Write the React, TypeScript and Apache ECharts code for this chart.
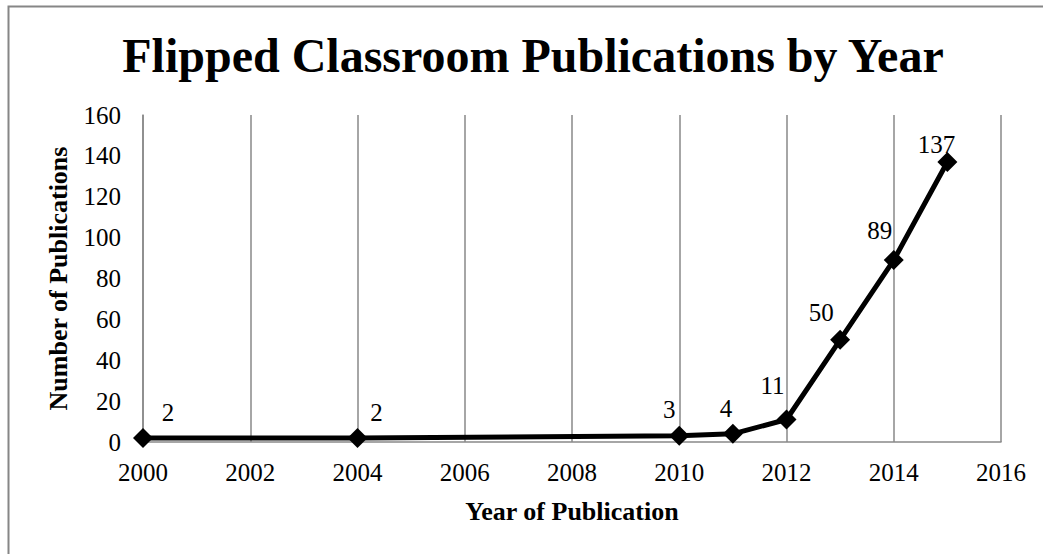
import React, { useEffect, useRef } from "react";
import * as echarts from "echarts";

const years = [2000, 2004, 2010, 2011, 2012, 2013, 2014, 2015];
const publications = [2, 2, 3, 4, 11, 50, 89, 137];
const labelOffsets: [number, number][] = [
  [25, -25], [19, -25], [-10, -26], [-7, -25], [-14, -34], [-19, -27], [-14, -30], [-11, -18],
];
const titleText = "Flipped Classroom Publications by Year";
const xName = "Year of Publication";
const yName = "Number of Publications";

const FONT = "Times New Roman, Liberation Serif, serif";

export default function App() {
  const ref = useRef<HTMLDivElement>(null);
  useEffect(() => {
    document.body.style.margin = "0";
    const chart = echarts.init(ref.current!, null, { renderer: "svg" });
    chart.setOption({
      animation: false,
      backgroundColor: "#fff",
      textStyle: { fontFamily: FONT, color: "#000" },
      title: {
        text: titleText,
        left: 528,
        textAlign: "center",
        top: 26,
        textStyle: { fontFamily: FONT, fontSize: 48, fontWeight: "bold", color: "#000" },
      },
      graphic: [
        {
          type: "rect",
          shape: { x: 8.5, y: 6.5, width: 1100, height: 600 },
          style: { fill: "none", stroke: "#868686", lineWidth: 2 },
          silent: true,
        },
      ],
      grid: { left: 143, right: 42, top: 115, bottom: 112 },
      xAxis: {
        type: "value",
        min: 2000,
        max: 2016,
        interval: 2,
        name: xName,
        nameLocation: "middle",
        nameGap: 56,
        nameTextStyle: { fontFamily: FONT, fontSize: 26, fontWeight: "bold", color: "#000" },
        axisLine: { show: true, lineStyle: { color: "#898989", width: 1.5 } },
        axisTick: { show: false },
        axisLabel: {
          fontFamily: FONT,
          fontSize: 25,
          color: "#000",
          margin: 18,
          formatter: (v: number) => String(v),
        },
        splitLine: { show: true, lineStyle: { color: "#898989", width: 1.5 } },
      },
      yAxis: {
        type: "value",
        min: 0,
        max: 160,
        interval: 20,
        name: yName,
        nameLocation: "middle",
        nameGap: 72,
        nameTextStyle: { fontFamily: FONT, fontSize: 26, fontWeight: "bold", color: "#000" },
        axisLine: { show: true, lineStyle: { color: "#898989", width: 1.5 } },
        axisTick: { show: false },
        axisLabel: { fontFamily: FONT, fontSize: 25, color: "#000", margin: 22 },
        splitLine: { show: false },
      },
      series: [
        {
          type: "line",
          data: years.map((y, i) => ({
            value: [y, publications[i]],
            label: { offset: labelOffsets[i] },
          })),
          symbol: "diamond",
          symbolSize: 20,
          itemStyle: { color: "#000" },
          lineStyle: { color: "#000", width: 5 },
          label: {
            show: true,
            position: "inside",
            fontFamily: FONT,
            fontSize: 25,
            color: "#000",
            formatter: (p: any) => String(p.value[1]),
          },
        },
      ],
    });
    return () => chart.dispose();
  }, []);
  return <div ref={ref} style={{ width: 1043, height: 554 }} />;
}
